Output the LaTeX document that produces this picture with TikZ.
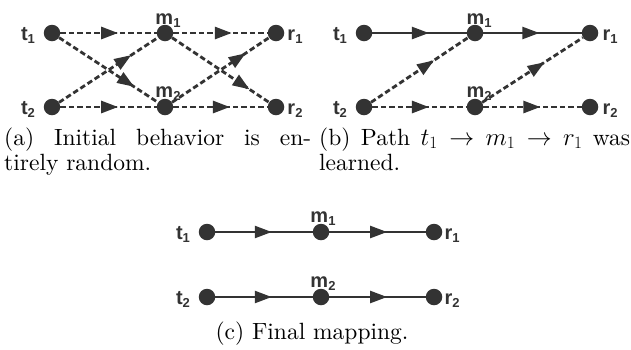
\documentclass[tikz,border=0pt]{standalone}
\usepackage{fontspec}
\setmainfont{lmroman10-regular.otf}
\newfontfamily\lblfont{Liberation Sans}
\usetikzlibrary{decorations.markings,arrows.meta}
\definecolor{ink}{HTML}{333333}
\newcommand\lbl[2]{{\lblfont\bfseries\fontsize{20}{20}\selectfont #1\raisebox{-0.3ex}{\fontsize{13}{13}\selectfont #2}}}
\tikzset{
  dotnode/.style={circle,fill=ink,inner sep=0pt,minimum size=16.5pt},
  labnode/.style={text=ink,inner sep=0pt,anchor=base},
  dedge/.style={draw=ink,line width=2.8pt,dash pattern=on 5.5pt off 3pt},
  sedge/.style={draw=ink,line width=2.4pt},
  midarrow/.style={postaction={decorate,decoration={markings,
      mark=at position #1 with {\arrow[ink]{Triangle[length=17pt,width=12pt]}}}}},
  captxt/.style={inner sep=0pt,anchor=base west,font=\fontsize{23.5}{28}\selectfont},
}
\begin{document}
\begin{tikzpicture}[x=1pt,y=-1pt]
\useasboundingbox (0,0) rectangle (631,349);
% ---------- (a)
\node[dotnode] (at1) at (52,33) {};
\node[dotnode] (am1) at (165,33) {};
\node[dotnode] (ar1) at (276,33) {};
\node[dotnode] (at2) at (52,107) {};
\node[dotnode] (am2) at (165,107) {};
\node[dotnode] (ar2) at (276,107) {};
\node[labnode] (lat1) at (28,40) {\lbl{t}{1}};
\node[labnode] (lat2) at (28,114) {\lbl{t}{2}};
\node[labnode] (lar1) at (295,40) {\lbl{r}{1}};
\node[labnode] (lar2) at (295,114) {\lbl{r}{2}};
\node[labnode] (lam1) at (168,24) {\lbl{m}{1}};
\node[labnode] (lam2) at (168,97) {\lbl{m}{2}};
\draw[dedge,midarrow=0.6] (at1) -- (am1);
\draw[dedge,midarrow=0.62] (am1) -- (ar1);
\draw[dedge,midarrow=0.6] (at2) -- (am2);
\draw[dedge,midarrow=0.6] (am2) -- (ar2);
\draw[dedge,midarrow=0.76] (at1) -- (am2);
\draw[dedge,midarrow=0.73] (at2) -- (am1);
\draw[dedge,midarrow=0.8] (am1) -- (ar2);
\draw[dedge,midarrow=0.76] (am2) -- (ar1);
\node[captxt] (capa1) at (4,145) {\makebox[307pt][s]{(a) Initial behavior is en-}};
\node[captxt] (capa2) at (4,170) {tirely random.};
% ---------- (b)
\node[dotnode] (bt1) at (364,33) {};
\node[dotnode] (bm1) at (475,33) {};
\node[dotnode] (br1) at (590,33) {};
\node[dotnode] (bt2) at (364,107) {};
\node[dotnode] (bm2) at (475,107) {};
\node[dotnode] (br2) at (590,107) {};
\node[labnode] (lbt1) at (340,40) {\lbl{t}{1}};
\node[labnode] (lbt2) at (340,114) {\lbl{t}{2}};
\node[labnode] (lbr1) at (610,40) {\lbl{r}{1}};
\node[labnode] (lbr2) at (610,114) {\lbl{r}{2}};
\node[labnode] (lbm1) at (479,24) {\lbl{m}{1}};
\node[labnode] (lbm2) at (479,97) {\lbl{m}{2}};
\draw[sedge,midarrow=0.6] (bt1) -- (bm1);
\draw[sedge,midarrow=0.57] (bm1) -- (br1);
\draw[dedge,midarrow=0.6] (bt2) -- (bm2);
\draw[dedge,midarrow=0.58] (bm2) -- (br2);
\draw[dedge,midarrow=0.65] (bt2) -- (bm1);
\draw[dedge,midarrow=0.62] (bm2) -- (br1);
\node[captxt] (capb1) at (319,145) {\makebox[311pt][s]{(b) Path $t_1\to m_1\to r_1$ was}};
\node[captxt] (capb2) at (319,170) {learned.};
% ---------- (c)
\node[dotnode] (ct1) at (207,232) {};
\node[dotnode] (cm1) at (321,232) {};
\node[dotnode] (cr1) at (434,232) {};
\node[dotnode] (ct2) at (207,297) {};
\node[dotnode] (cm2) at (321,297) {};
\node[dotnode] (cr2) at (434,297) {};
\node[labnode] (lct1) at (183,239) {\lbl{t}{1}};
\node[labnode] (lct2) at (183,304) {\lbl{t}{2}};
\node[labnode] (lcr1) at (452,239) {\lbl{r}{1}};
\node[labnode] (lcr2) at (452,304) {\lbl{r}{2}};
\node[labnode] (lcm1) at (323,222) {\lbl{m}{1}};
\node[labnode] (lcm2) at (323,287) {\lbl{m}{2}};
\draw[sedge,midarrow=0.58] (ct1) -- (cm1);
\draw[sedge,midarrow=0.6] (cm1) -- (cr1);
\draw[sedge,midarrow=0.58] (ct2) -- (cm2);
\draw[sedge,midarrow=0.6] (cm2) -- (cr2);
\node[captxt,anchor=base] (capc) at (312,339) {(c) Final mapping.};
\end{tikzpicture}
\end{document}
